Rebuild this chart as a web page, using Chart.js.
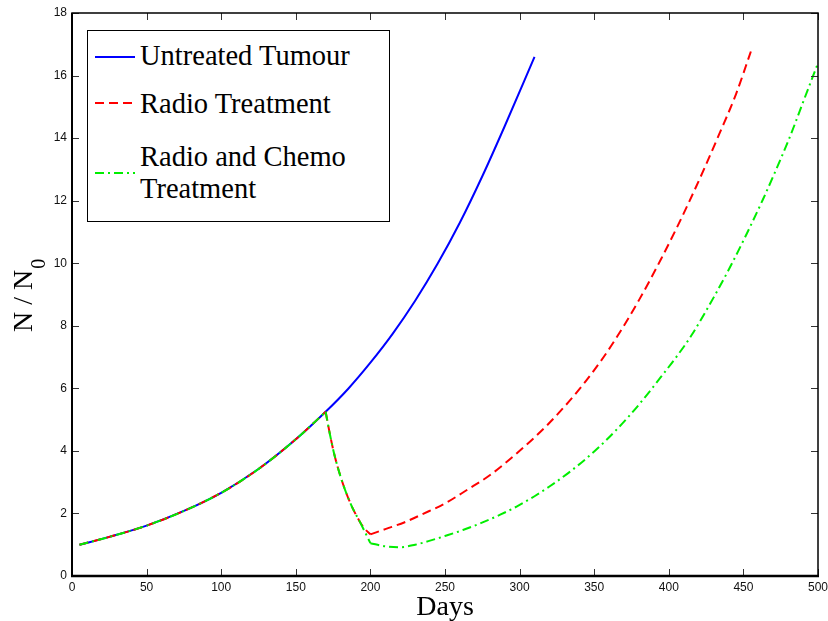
<!DOCTYPE html>
<html>
<head>
<meta charset="utf-8">
<script src="https://cdn.jsdelivr.net/npm/chart.js@4.4.1/dist/chart.umd.min.js"></script>
<style>
  html, body { margin: 0; padding: 0; background: #fff; }
  #wrap { position: relative; width: 828px; height: 621px; }
  #chart { position: absolute; left: 0; top: 0; }
  #legendBox { position: absolute; left: 87px; top: 30px; width: 303px; height: 192px;
    border: 1px solid #000; background: #fff; box-sizing: border-box; }
  .lgText { position: absolute; font-family: "Liberation Serif", "Times New Roman", serif;
    font-size: 28.5px; line-height: 32px; color: #000; white-space: nowrap; }
  .lgLine { position: absolute; }
</style>
</head>
<body>
<div id="wrap">
  <canvas id="chart" width="828" height="621"></canvas>
  <div id="legendBox"></div>
</div>
<script>
// ---- Data ----
const seriesNames = ["Untreated Tumour", "Radio Treatment", "Radio and Chemo\nTreatment"];

const untreatedDays   = [5, 25, 50, 75, 100, 125, 150, 170, 185, 200, 215, 230, 245, 260, 275, 290, 310];
const untreatedValues = [1.00, 1.25, 1.61, 2.08, 2.66, 3.42, 4.37, 5.25, 5.98, 6.82, 7.75, 8.80, 9.98, 11.30, 12.78, 14.38, 16.60];

const radioDays   = [5, 25, 50, 75, 100, 125, 150, 170, 173, 176, 180, 184, 188, 193, 196, 200, 210, 223, 235, 250, 265, 280, 298, 318, 336, 350, 364, 380, 395, 405, 414, 424, 434, 445, 455];
const radioValues = [1.00, 1.25, 1.61, 2.08, 2.66, 3.42, 4.37, 5.25, 4.50, 3.85, 3.18, 2.63, 2.18, 1.73, 1.52, 1.33, 1.50, 1.72, 1.98, 2.32, 2.76, 3.22, 3.92, 4.80, 5.74, 6.58, 7.55, 8.82, 10.15, 11.10, 12.00, 13.05, 14.15, 15.40, 16.77];
const radioKinks  = [170, 200];

const chemoDays   = [5, 25, 50, 75, 100, 125, 150, 170, 173, 176, 180, 184, 188, 193, 200, 210, 220, 230, 240, 250, 262, 274, 287, 298, 310, 320, 335, 350, 365, 380, 395, 405, 415, 430, 441, 452, 463, 472, 481, 490, 500];
const chemoValues = [1.00, 1.25, 1.61, 2.08, 2.66, 3.42, 4.37, 5.25, 4.50, 3.85, 3.18, 2.63, 2.18, 1.73, 1.05, 0.95, 0.92, 1.00, 1.13, 1.28, 1.47, 1.69, 1.96, 2.22, 2.55, 2.86, 3.38, 3.98, 4.68, 5.48, 6.38, 7.00, 7.68, 8.90, 9.87, 10.92, 12.03, 13.00, 14.02, 15.15, 16.40];
const chemoKinks  = [170, 193, 200];

const xTickStep = 50, xMin = 0, xMax = 500;
const yTickStep = 2,  yMin = 0, yMax = 18;

// Build {x,y} points; a kink day ends one smooth piece and starts the next
function pts(xs, ys, kinks) {
  const out = [];
  xs.forEach((x, i) => {
    out.push({ x: x, y: ys[i] });
    if (kinks && kinks.includes(x) && i > 0 && i < xs.length - 1) {
      out.push({ x: x, y: null });
      out.push({ x: x, y: ys[i] });
    }
  });
  return out;
}

const styles = [
  { color: '#0000ff', dash: [],           width: 2, order: 3 },
  { color: '#ff0000', dash: [9, 5],       width: 2, order: 2 },
  { color: '#00ee00', dash: [9, 4, 2, 4], width: 2, order: 1 }
];
const dataSets = [
  pts(untreatedDays, untreatedValues, []),
  pts(radioDays, radioValues, radioKinks),
  pts(chemoDays, chemoValues, chemoKinks)
];

const tickFont = { family: '"Liberation Sans", Arial, Helvetica, sans-serif', size: 12 };

const framePlugin = {
  id: 'frame',
  afterDatasetsDraw(chart) {
    const ctx = chart.ctx, a = chart.chartArea;
    const xs = chart.scales.x, ys = chart.scales.y;
    ctx.save();
    ctx.strokeStyle = '#333';
    ctx.lineWidth = 1;
    const tl = 7;
    xs.ticks.forEach(t => {
      const px = Math.round(xs.getPixelForValue(t.value)) + 0.5;
      ctx.beginPath();
      ctx.moveTo(px, a.bottom); ctx.lineTo(px, a.bottom - tl);
      ctx.moveTo(px, a.top); ctx.lineTo(px, a.top + tl);
      ctx.stroke();
    });
    ys.ticks.forEach(t => {
      const py = Math.round(ys.getPixelForValue(t.value)) + 0.5;
      ctx.beginPath();
      ctx.moveTo(a.left, py); ctx.lineTo(a.left + tl, py);
      ctx.moveTo(a.right, py); ctx.lineTo(a.right - tl, py);
      ctx.stroke();
    });
    ctx.strokeStyle = '#000';
    ctx.lineWidth = 1.5;
    ctx.strokeRect(a.left, a.top, a.right - a.left, a.bottom - a.top);
    ctx.lineWidth = 2.5;
    ctx.beginPath(); ctx.moveTo(a.left - 1, a.bottom); ctx.lineTo(a.right + 1, a.bottom); ctx.stroke();
    ctx.lineWidth = 2;
    ctx.beginPath(); ctx.moveTo(a.left, a.top); ctx.lineTo(a.left, a.bottom); ctx.stroke();

    ctx.fillStyle = '#000';
    ctx.font = '28px "Liberation Serif", "Times New Roman", serif';
    ctx.textAlign = 'center';
    ctx.textBaseline = 'alphabetic';
    ctx.fillText('Days', (a.left + a.right) / 2, 615);

    ctx.translate(32, 332);
    ctx.rotate(-Math.PI / 2);
    ctx.textAlign = 'left';
    const main = 'N / N';
    ctx.fillText(main, 0, 0);
    const w = ctx.measureText(main).width;
    ctx.font = '20px "Liberation Serif", "Times New Roman", serif';
    ctx.fillText('0', w + 1, 13);
    ctx.restore();
  }
};

const chart = new Chart(document.getElementById('chart'), {
  type: 'line',
  data: {
    datasets: dataSets.map((d, i) => ({
      label: seriesNames[i],
      data: d,
      borderColor: styles[i].color,
      backgroundColor: styles[i].color,
      borderWidth: styles[i].width,
      borderDash: styles[i].dash,
      pointRadius: 0,
      cubicInterpolationMode: 'monotone',
      spanGaps: false,
      fill: false,
      order: styles[i].order
    }))
  },
  options: {
    responsive: false,
    animation: false,
    devicePixelRatio: 1,
    layout: { padding: { top: 13, right: 10, left: 0, bottom: 0 } },
    plugins: { legend: { display: false }, tooltip: { enabled: false }, title: { display: false } },
    scales: {
      x: {
        type: 'linear', min: xMin, max: xMax,
        ticks: { stepSize: xTickStep, padding: 4, font: tickFont, color: '#111', maxRotation: 0, autoSkip: false },
        grid: { display: false, drawTicks: false },
        border: { display: false },
        afterFit(s) { s.height = 45; s.paddingLeft = 0; s.paddingRight = 0; }
      },
      y: {
        type: 'linear', min: yMin, max: yMax,
        ticks: { stepSize: yTickStep, padding: 5, font: tickFont, color: '#111' },
        grid: { display: false, drawTicks: false },
        border: { display: false },
        afterFit(s) { s.width = 72; s.paddingTop = 0; s.paddingBottom = 0; }
      }
    }
  },
  plugins: [framePlugin]
});

// ---- Legend (HTML text, samples drawn as SVG from the dataset styles) ----
const wrap = document.getElementById('wrap');
const legendRows = [
  { lineY: 57,  textTop: 40 },
  { lineY: 103, textTop: 88 },
  { lineY: 173, textTop: 141 }
];
seriesNames.forEach((name, i) => {
  const r = legendRows[i];
  const svgNS = 'http://www.w3.org/2000/svg';
  const svg = document.createElementNS(svgNS, 'svg');
  svg.setAttribute('width', '42'); svg.setAttribute('height', '6');
  svg.setAttribute('class', 'lgLine');
  svg.style.left = '94px'; svg.style.top = (r.lineY - 3) + 'px';
  const ln = document.createElementNS(svgNS, 'line');
  ln.setAttribute('x1', '1'); ln.setAttribute('x2', '41');
  ln.setAttribute('y1', '3'); ln.setAttribute('y2', '3');
  ln.setAttribute('stroke', styles[i].color);
  ln.setAttribute('stroke-width', styles[i].width);
  if (styles[i].dash.length) ln.setAttribute('stroke-dasharray', styles[i].dash.join(','));
  svg.appendChild(ln);
  wrap.appendChild(svg);
  const t = document.createElement('div');
  t.className = 'lgText';
  t.style.left = '140px'; t.style.top = r.textTop + 'px';
  t.innerHTML = name.split('\n').join('<br>');
  wrap.appendChild(t);
});
</script>
</body>
</html>
